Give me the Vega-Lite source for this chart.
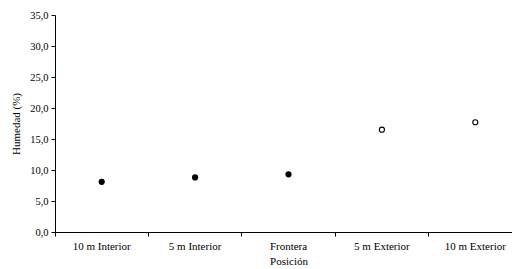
{
  "$schema": "https://vega.github.io/schema/vega-lite/v6.json",
  "autosize": {"type": "none"},
  "width": 467,
  "height": 217,
  "padding": {"left": 55, "top": 15, "right": -10, "bottom": 37},
  "background": "white",
  "config": {
    "view": {"stroke": null},
    "font": "Times New Roman, Liberation Serif, serif",
    "axis": {"labelFont": "Times New Roman, Liberation Serif, serif", "titleFont": "Times New Roman, Liberation Serif, serif", "labelColor": "black", "titleColor": "black", "domainColor": "black", "tickColor": "black", "labelFontSize": 10.5, "titleFontSize": 11, "titleFontWeight": "normal", "grid": false}
  },
  "data": {
    "values": [
      {"pos": "10 m Interior", "hum": 8.1, "lado": "Interior"},
      {"pos": "5 m Interior", "hum": 8.8, "lado": "Interior"},
      {"pos": "Frontera", "hum": 9.3, "lado": "Interior"},
      {"pos": "5 m Exterior", "hum": 16.5, "lado": "Exterior"},
      {"pos": "10 m Exterior", "hum": 17.7, "lado": "Exterior"}
    ]
  },
  "mark": {"type": "point", "shape": "circle", "size": 26, "stroke": "black", "strokeWidth": 1.1, "opacity": 1},
  "encoding": {
    "x": {
      "field": "pos", "type": "nominal", "sort": null,
      "scale": {"type": "band", "paddingInner": 0, "paddingOuter": 0},
      "axis": {"title": "Posición", "labelAngle": 0, "bandPosition": 0, "tickSize": 4, "labelFontSize": 11, "labelPadding": 4, "titlePadding": 4}
    },
    "y": {
      "field": "hum", "type": "quantitative",
      "scale": {"domain": [0, 35], "nice": false},
      "axis": {"title": "Humedad (%)", "values": [0, 5, 10, 15, 20, 25, 30, 35], "labelExpr": "replace(format(datum.value, '.1f'), '.', ',')", "tickSize": 4, "labelPadding": 3, "titlePadding": 8}
    },
    "fill": {
      "field": "lado", "type": "nominal",
      "scale": {"domain": ["Interior", "Exterior"], "range": ["black", "white"]},
      "legend": null
    }
  }
}
